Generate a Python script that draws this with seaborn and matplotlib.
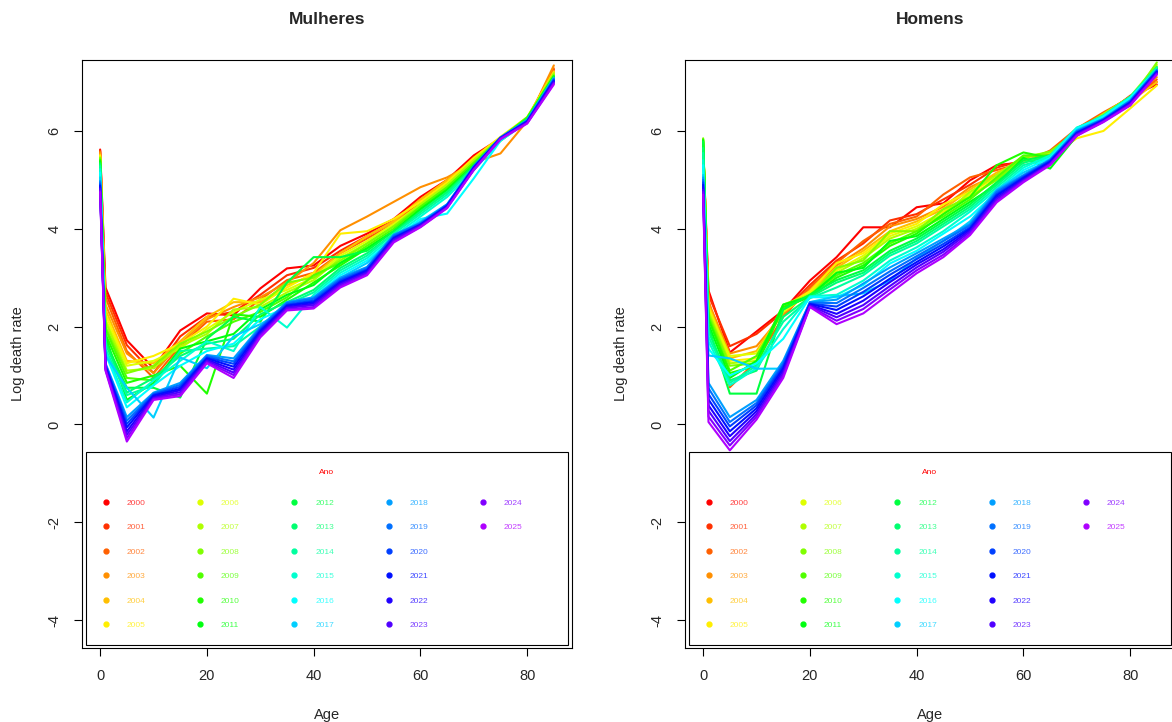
import numpy as np
import pandas as pd
import matplotlib
matplotlib.use("Agg")
import matplotlib.pyplot as plt
from matplotlib.colors import hsv_to_rgb
from matplotlib.lines import Line2D
from matplotlib.patches import Rectangle
import seaborn as sns

ages = [0, 1, 5, 10, 15, 20, 25, 30, 35, 40, 45, 50, 55, 60, 65, 70, 75, 80, 85]
years = list(range(2000, 2026))

mulheres = {
    2000: [5.62, 2.80, 1.72, 1.15, 1.92, 2.27, 2.23, 2.78, 3.19, 3.25, 3.65, 3.90, 4.20, 4.65, 5.00, 5.50, 5.85, 6.25, 7.25],
    2001: [5.60, 2.70, 1.62, 1.05, 1.80, 2.20, 2.30, 2.65, 3.05, 3.20, 3.55, 3.85, 4.15, 4.60, 4.95, 5.45, 5.85, 6.25, 7.20],
    2002: [5.58, 2.60, 1.50, 0.95, 1.60, 2.10, 2.15, 2.55, 2.95, 3.10, 3.50, 3.80, 4.10, 4.55, 4.95, 5.45, 5.80, 6.20, 7.28],
    2003: [5.56, 2.45, 1.45, 1.05, 1.65, 2.15, 2.40, 2.60, 2.90, 3.30, 3.97, 4.25, 4.55, 4.85, 5.05, 5.35, 5.54, 6.20, 7.34],
    2004: [5.52, 2.35, 1.30, 1.25, 1.70, 2.20, 2.50, 2.50, 2.85, 3.05, 3.50, 3.85, 4.15, 4.60, 5.00, 5.40, 5.85, 6.25, 7.22],
    2005: [5.50, 2.25, 1.25, 1.40, 1.65, 2.00, 2.57, 2.45, 2.80, 3.10, 3.90, 3.95, 4.20, 4.55, 4.95, 5.45, 5.88, 6.28, 7.20],
    2006: [5.48, 2.15, 1.20, 1.30, 1.55, 1.95, 2.30, 2.55, 2.75, 3.00, 3.45, 3.75, 4.10, 4.50, 4.90, 5.40, 5.80, 6.20, 7.15],
    2007: [5.46, 2.10, 1.10, 1.15, 1.60, 1.85, 2.35, 2.40, 2.70, 2.95, 3.40, 3.70, 4.05, 4.50, 4.90, 5.40, 5.85, 6.25, 7.18],
    2008: [5.45, 2.00, 1.05, 1.20, 1.65, 1.90, 2.20, 2.45, 2.90, 3.00, 3.35, 3.70, 4.05, 4.45, 4.85, 5.35, 5.85, 6.25, 7.15],
    2009: [5.42, 1.95, 0.95, 0.90, 1.45, 1.80, 2.10, 2.30, 2.60, 3.05, 3.30, 3.65, 4.00, 4.45, 4.85, 5.35, 5.85, 6.28, 7.12],
    2010: [5.40, 1.85, 0.85, 1.00, 1.20, 0.63, 2.25, 2.20, 2.55, 2.90, 3.25, 3.60, 3.95, 4.40, 4.80, 5.30, 5.82, 6.25, 7.10],
    2011: [5.38, 1.80, 0.50, 0.85, 1.55, 1.70, 1.85, 2.35, 2.65, 2.85, 3.30, 3.60, 3.95, 4.40, 4.80, 5.30, 5.85, 6.25, 7.12],
    2012: [5.35, 1.70, 0.75, 0.75, 0.55, 1.75, 2.20, 2.10, 2.90, 3.42, 3.42, 3.55, 3.95, 4.35, 4.75, 5.30, 5.85, 6.25, 7.10],
    2013: [5.32, 1.65, 0.65, 0.95, 1.40, 1.65, 1.75, 2.25, 2.50, 2.75, 3.20, 3.50, 3.90, 4.35, 4.75, 5.25, 5.82, 6.22, 7.08],
    2014: [5.28, 1.55, 0.60, 0.80, 1.50, 1.55, 1.60, 2.00, 2.45, 2.70, 3.15, 3.45, 3.90, 4.30, 4.70, 5.25, 5.85, 6.22, 7.08],
    2015: [5.22, 1.50, 0.45, 0.90, 1.30, 1.70, 1.50, 2.40, 1.98, 2.65, 3.10, 3.40, 3.85, 4.25, 4.65, 5.20, 5.80, 6.20, 7.05],
    2016: [5.15, 1.45, 0.35, 0.80, 1.20, 1.50, 1.65, 2.15, 2.40, 2.60, 3.05, 3.35, 3.80, 4.20, 4.31, 5.03, 5.80, 6.18, 7.05],
    2017: [5.05, 1.41, 0.75, 0.14, 1.37, 1.15, 1.80, 2.05, 2.35, 2.58, 3.00, 3.30, 3.80, 4.15, 4.50, 5.20, 5.82, 6.20, 7.05],
    2018: [4.98, 1.25, 0.15, 0.65, 0.85, 1.42, 1.35, 2.00, 2.50, 2.60, 3.00, 3.22, 3.88, 4.12, 4.50, 5.28, 5.87, 6.22, 7.08],
    2019: [4.95, 1.23, 0.08, 0.63, 0.81, 1.40, 1.29, 1.97, 2.48, 2.57, 2.97, 3.20, 3.86, 4.11, 4.49, 5.27, 5.86, 6.21, 7.06],
    2020: [4.91, 1.21, 0.01, 0.61, 0.77, 1.37, 1.24, 1.94, 2.45, 2.53, 2.94, 3.17, 3.83, 4.09, 4.48, 5.26, 5.86, 6.20, 7.04],
    2021: [4.88, 1.19, -0.06, 0.59, 0.73, 1.35, 1.18, 1.91, 2.43, 2.50, 2.91, 3.15, 3.81, 4.08, 4.47, 5.25, 5.85, 6.19, 7.02],
    2022: [4.85, 1.16, -0.14, 0.56, 0.70, 1.32, 1.12, 1.87, 2.40, 2.47, 2.89, 3.12, 3.79, 4.07, 4.45, 5.23, 5.85, 6.18, 7.01],
    2023: [4.82, 1.14, -0.21, 0.54, 0.66, 1.30, 1.06, 1.84, 2.38, 2.44, 2.86, 3.10, 3.77, 4.06, 4.44, 5.22, 5.84, 6.17, 6.99],
    2024: [4.78, 1.12, -0.28, 0.52, 0.62, 1.27, 1.01, 1.81, 2.35, 2.40, 2.83, 3.07, 3.74, 4.04, 4.43, 5.21, 5.84, 6.16, 6.97],
    2025: [4.75, 1.10, -0.35, 0.50, 0.58, 1.25, 0.95, 1.78, 2.33, 2.37, 2.80, 3.05, 3.72, 4.03, 4.42, 5.20, 5.83, 6.15, 6.95],
}

homens = {
    2000: [5.70, 2.74, 1.47, 1.90, 2.33, 2.94, 3.42, 4.03, 4.03, 4.44, 4.52, 4.99, 5.30, 5.36, 5.55, 6.00, 6.35, 6.70, 6.95],
    2001: [5.72, 2.65, 1.60, 1.85, 2.30, 2.85, 3.35, 3.70, 4.17, 4.30, 4.60, 4.90, 5.25, 5.40, 5.50, 5.95, 6.30, 6.72, 7.00],
    2002: [5.68, 2.55, 0.76, 1.30, 2.20, 2.80, 3.30, 3.75, 4.10, 4.25, 4.70, 5.05, 5.20, 5.35, 5.60, 6.05, 6.38, 6.68, 7.05],
    2003: [5.70, 2.50, 1.45, 1.60, 2.25, 2.75, 3.25, 3.60, 4.05, 4.20, 4.45, 4.85, 5.10, 5.45, 5.55, 5.98, 6.32, 6.65, 7.10],
    2004: [5.75, 2.45, 1.35, 1.50, 2.35, 2.70, 3.20, 3.55, 3.95, 4.15, 4.40, 4.80, 5.15, 5.38, 5.50, 5.90, 6.25, 6.60, 7.00],
    2005: [5.78, 2.40, 1.30, 1.35, 2.40, 2.72, 3.30, 3.50, 3.90, 4.10, 4.50, 4.75, 5.05, 5.42, 5.45, 5.85, 6.00, 6.46, 6.93],
    2006: [5.80, 2.35, 1.40, 1.45, 2.30, 2.68, 3.15, 3.45, 3.85, 4.05, 4.35, 4.70, 5.00, 5.40, 5.50, 5.95, 6.28, 6.65, 7.25],
    2007: [5.82, 2.30, 1.25, 1.30, 2.45, 2.65, 3.10, 3.40, 3.80, 4.00, 4.30, 4.75, 5.10, 5.48, 5.55, 6.00, 6.35, 6.70, 7.35],
    2008: [5.85, 2.25, 1.20, 1.25, 2.40, 2.62, 3.20, 3.35, 3.95, 3.95, 4.40, 4.65, 5.00, 5.45, 5.58, 5.98, 6.30, 6.62, 7.40],
    2009: [5.83, 2.20, 1.10, 1.40, 2.35, 2.65, 3.05, 3.30, 3.70, 3.95, 4.25, 4.60, 5.05, 5.50, 5.50, 5.95, 6.25, 6.55, 7.30],
    2010: [5.82, 2.15, 1.05, 1.20, 2.40, 2.60, 3.00, 3.25, 3.65, 3.90, 4.30, 4.65, 5.30, 5.56, 5.45, 6.02, 6.30, 6.60, 7.30],
    2011: [5.80, 2.05, 0.95, 1.30, 2.45, 2.62, 3.10, 3.20, 3.75, 3.85, 4.20, 4.55, 4.90, 5.45, 5.23, 5.90, 6.26, 6.52, 7.28],
    2012: [5.78, 2.00, 0.63, 0.63, 2.35, 2.65, 2.95, 3.15, 3.55, 3.80, 4.15, 4.50, 4.95, 5.40, 5.50, 6.00, 6.28, 6.65, 7.30],
    2013: [5.65, 1.90, 0.90, 1.10, 2.20, 2.60, 2.90, 3.10, 3.50, 3.75, 4.10, 4.45, 4.90, 5.35, 5.48, 5.98, 6.30, 6.68, 7.25],
    2014: [5.55, 1.80, 0.85, 1.20, 2.10, 2.58, 2.80, 3.05, 3.45, 3.70, 4.05, 4.40, 4.85, 5.30, 5.45, 6.05, 6.32, 6.70, 7.30],
    2015: [5.40, 1.70, 0.80, 1.15, 1.95, 2.62, 2.65, 2.94, 3.35, 3.62, 3.95, 4.35, 4.80, 5.25, 5.50, 6.07, 6.28, 6.65, 7.20],
    2016: [5.30, 1.55, 1.00, 1.25, 1.75, 2.60, 2.60, 2.85, 3.29, 3.55, 3.90, 4.25, 4.75, 5.20, 5.45, 6.05, 6.30, 6.68, 7.25],
    2017: [5.10, 1.41, 1.35, 1.14, 1.14, 2.50, 2.62, 2.68, 2.94, 3.40, 3.75, 4.15, 4.80, 5.15, 5.40, 6.02, 6.25, 6.62, 7.22],
    2018: [5.05, 0.85, 0.15, 0.50, 1.30, 2.50, 2.55, 2.88, 3.21, 3.50, 3.80, 4.10, 4.78, 5.10, 5.42, 6.00, 6.25, 6.62, 7.25],
    2019: [5.00, 0.74, 0.05, 0.44, 1.25, 2.49, 2.48, 2.79, 3.13, 3.44, 3.75, 4.07, 4.75, 5.08, 5.40, 5.99, 6.24, 6.61, 7.24],
    2020: [4.95, 0.62, -0.04, 0.39, 1.20, 2.47, 2.41, 2.71, 3.06, 3.38, 3.69, 4.03, 4.71, 5.06, 5.39, 5.97, 6.23, 6.59, 7.22],
    2021: [4.90, 0.51, -0.14, 0.33, 1.15, 2.46, 2.34, 2.62, 2.98, 3.32, 3.64, 4.00, 4.68, 5.04, 5.37, 5.96, 6.22, 6.58, 7.21],
    2022: [4.85, 0.39, -0.24, 0.27, 1.10, 2.44, 2.26, 2.53, 2.91, 3.27, 3.58, 3.97, 4.64, 5.01, 5.35, 5.94, 6.21, 6.56, 7.19],
    2023: [4.80, 0.28, -0.34, 0.21, 1.05, 2.43, 2.19, 2.44, 2.83, 3.21, 3.53, 3.94, 4.61, 4.99, 5.33, 5.93, 6.20, 6.55, 7.18],
    2024: [4.75, 0.16, -0.43, 0.16, 1.00, 2.41, 2.12, 2.36, 2.76, 3.15, 3.47, 3.90, 4.57, 4.97, 5.32, 5.91, 6.19, 6.53, 7.16],
    2025: [4.70, 0.05, -0.53, 0.10, 0.95, 2.40, 2.05, 2.27, 2.68, 3.09, 3.42, 3.87, 4.54, 4.95, 5.30, 5.90, 6.18, 6.52, 7.15],
}

panel_titles = ["Mulheres", "Homens"]
x_ticks = [0, 20, 40, 60, 80]
y_ticks = [-4, -2, 0, 2, 4, 6]

# R-like rainbow palette: rainbow(32)[1:26]
colors = [hsv_to_rgb((k / 32.0, 1.0, 1.0)) for k in range(len(years))]
palette = {str(y): c for y, c in zip(years, colors)}

sns.set_style("ticks")
plt.rcParams["font.family"] = ["Liberation Sans", "DejaVu Sans"]

fig = plt.figure(figsize=(11.72, 7.22), dpi=100)
ax_pos = [[82 / 1172, 1 - 648 / 722, 490 / 1172, 588 / 722],
          [685 / 1172, 1 - 648 / 722, 490 / 1172, 588 / 722]]

for pos, title, data in zip(ax_pos, panel_titles, [mulheres, homens]):
    ax = fig.add_axes(pos)
    rows = []
    for y in years:
        for a, v in zip(ages, data[y]):
            rows.append({"Age": a, "rate": v, "Ano": str(y)})
    df = pd.DataFrame(rows)
    sns.lineplot(data=df, x="Age", y="rate", hue="Ano", palette=palette,
                 hue_order=[str(y) for y in years], linewidth=1.5,
                 legend=False, ax=ax, sort=False, estimator=None)
    ax.set_xlim(-3.4, 88.4)
    ax.set_ylim(-4.57, 7.45)
    ax.set_xticks(x_ticks)
    ax.set_yticks(y_ticks)
    ax.set_yticklabels([str(t) for t in y_ticks], rotation=90, va="center")
    ax.tick_params(axis="both", direction="out", length=6, width=0.8,
                   labelsize=10.5, color="black")
    ax.tick_params(axis="x", pad=9)
    ax.tick_params(axis="y", pad=9)
    for s in ax.spines.values():
        s.set_visible(True)
        s.set_color("black")
        s.set_linewidth(0.8)
    ax.set_title(title, fontsize=12.5, fontweight="bold", pad=26)
    ax.set_xlabel("Age", fontsize=10.5, labelpad=18)
    ax.set_ylabel("Log death rate", fontsize=10.5, labelpad=16)

    # legend box (frame) drawn as a patch in axes coordinates
    box = Rectangle((4 / 490, 3 / 588), 482 / 490, 193 / 588,
                    transform=ax.transAxes, facecolor="white",
                    edgecolor="black", linewidth=0.8, zorder=5)
    ax.add_patch(box)

    handles = [Line2D([], [], marker="o", linestyle="", color=c, markersize=3.5)
               for c in colors]
    labels = [str(y) for y in years]
    lcolors = list(colors)
    # pad to 30 entries so the columns hold 6, 6, 6, 6, 2 items
    for _ in range(4):
        handles.append(Line2D([], [], linestyle="", marker=None))
        labels.append("")
        lcolors.append((1, 1, 1))
    leg = ax.legend(handles, labels, ncol=5, title="Ano",
                    title_fontsize=6, fontsize=6, labelcolor=lcolors,
                    loc="lower left", mode="expand",
                    bbox_to_anchor=(-1 / 490, -2 / 588, 462 / 490, 0.33),
                    borderaxespad=0, frameon=False,
                    handlelength=1.0, handletextpad=2.0,
                    labelspacing=2.0, borderpad=2.5)
    leg.set_zorder(6)
    leg.get_title().set_visible(False)
    for t in leg.get_texts():
        t.set_alpha(0.75)
    ax.text(245 / 490, (648 - 473) / 588, "Ano", color="red", fontsize=6,
            ha="center", va="center", transform=ax.transAxes, zorder=7)

fig.savefig("out.png", dpi=100)
